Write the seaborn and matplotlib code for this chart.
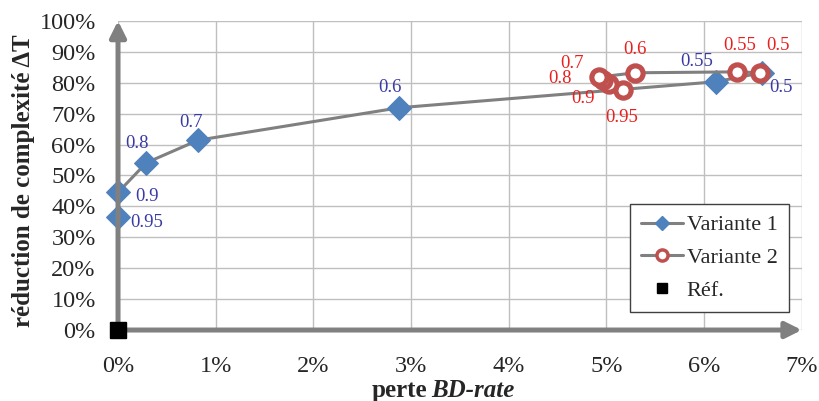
import matplotlib
matplotlib.use('Agg')
import matplotlib.pyplot as plt
from matplotlib.lines import Line2D
from matplotlib.ticker import PercentFormatter
import pandas as pd
import seaborn as sns

# Data (x: perte BD-rate in %, y: reduction in %).
v1_params = ['0.95', '0.9', '0.8', '0.7', '0.6', '0.55', '0.5']
v1_x = [0.0, 0.0, 0.29, 0.82, 2.88, 6.12, 6.59]
v1_y = [36.6, 44.5, 54.1, 61.4, 71.9, 80.3, 83.2]

v2_params = ['0.95', '0.9', '0.8', '0.7', '0.6', '0.55', '0.5']
v2_x = [5.17, 5.03, 4.96, 4.92, 5.29, 6.34, 6.57]
v2_y = [77.7, 79.7, 81.0, 81.8, 83.2, 83.5, 83.2]

ref_x = [0.0]
ref_y = [0.0]

# Label offsets in pixels (dx, dy, ha).
v1_offsets = [(12, -6, 'left'), (17, -4, 'left'), (-9, 19, 'center'), (-7, 18, 'center'),
              (-9, 20, 'center'), (-19, 20, 'center'), (19, -15, 'center')]
v2_offsets = [(-1, -28, 'center'), (-26, -15, 'center'), (-31, 1, 'right'), (-27, 14, 'center'),
              (0, 23, 'center'), (2, 26, 'center'), (18, 27, 'center')]

BLUE = '#4F81BD'
RED = '#C0504D'
GREY = '#808080'
BLUE_TXT = '#3A3AA6'
RED_TXT = '#E8201E'

sns.set_style('white')
plt.rcParams['font.family'] = ['Liberation Serif', 'DejaVu Serif']

fig = plt.figure(figsize=(8.19, 4.01), dpi=100)
ax = fig.add_axes([0.1441, 0.177, 0.979 - 0.1441, 0.948 - 0.177])

df1 = pd.DataFrame({'x': v1_x, 'y': v1_y})
df2 = pd.DataFrame({'x': v2_x, 'y': v2_y})

sns.lineplot(data=df1, x='x', y='y', ax=ax, sort=False, estimator=None, color=GREY, lw=2.2,
             marker='D', markersize=12, markerfacecolor=BLUE, markeredgecolor=BLUE,
             clip_on=False, zorder=3)
sns.lineplot(data=df2, x='x', y='y', ax=ax, sort=False, estimator=None, color=GREY, lw=2.2,
             marker='o', markersize=11, markerfacecolor='white', markeredgecolor=RED,
             markeredgewidth=3.7, clip_on=False, zorder=4)
ax.plot(ref_x, ref_y, ls='none', marker='s', markersize=11, color='black',
        clip_on=False, zorder=6)
ax.set(xlabel='', ylabel='')

for px, py, lab, (dx, dy, ha) in zip(v1_x, v1_y, v1_params, v1_offsets):
    ax.annotate(lab, (px, py), xytext=(dx, dy), textcoords='offset pixels',
                ha=ha, va='center', fontsize=13.5, color=BLUE_TXT, zorder=7)
for px, py, lab, (dx, dy, ha) in zip(v2_x, v2_y, v2_params, v2_offsets):
    ax.annotate(lab, (px, py), xytext=(dx, dy), textcoords='offset pixels',
                ha=ha, va='center', fontsize=13.5, color=RED_TXT, zorder=7)

ax.set_xlim(0, 7)
ax.set_ylim(0, 100)
ax.set_xticks(range(0, 8))
ax.set_yticks(range(0, 101, 10))
ax.xaxis.set_major_formatter(PercentFormatter(decimals=0))
ax.yaxis.set_major_formatter(PercentFormatter(decimals=0))
ax.tick_params(axis='both', length=0, labelsize=17.5)
ax.tick_params(axis='x', pad=19)
ax.tick_params(axis='y', pad=16)
ax.grid(True, color='#BFBFBF', lw=1)
for s in ax.spines.values():
    s.set_visible(False)

# Axes drawn as arrows.
arrow = dict(arrowstyle='-|>', color=GREY, lw=3.6, mutation_scale=24, shrinkA=0, shrinkB=0)
ax.annotate('', xy=(1, 0), xytext=(0, 0), xycoords='axes fraction', arrowprops=arrow, zorder=5)
ax.annotate('', xy=(0, 1), xytext=(0, 0), xycoords='axes fraction', arrowprops=arrow, zorder=5)

fig.text(0.522, 0.0274, 'perte', fontsize=18, fontweight='bold', ha='right', va='center')
fig.text(0.527, 0.0274, 'BD-rate', fontsize=18, fontweight='bold', style='italic',
         ha='left', va='center')
fig.text(0.029, 0.55, 'réduction de complexité ΔT', fontsize=18, fontweight='bold',
         rotation=90, ha='center', va='center')

handles = [
    Line2D([], [], color=GREY, lw=2.2, marker='D', markersize=7,
           markerfacecolor=BLUE, markeredgecolor=BLUE),
    Line2D([], [], color=GREY, lw=2.2, marker='o', markersize=8,
           markerfacecolor='white', markeredgecolor=RED, markeredgewidth=2.5),
    Line2D([], [], ls='none', marker='s', markersize=7, color='black'),
]
leg = ax.legend(handles, ['Variante 1', 'Variante 2', 'Réf.'], loc='lower right',
                bbox_to_anchor=(0.981, 0.058), fontsize=16, frameon=True, fancybox=False,
                framealpha=1, edgecolor='#404040', handlelength=1.9, handletextpad=0.15,
                borderpad=0.5, labelspacing=0.55, borderaxespad=0)
leg.get_frame().set_linewidth(1)
leg.set_zorder(8)

fig.savefig('out.png', dpi=100)
